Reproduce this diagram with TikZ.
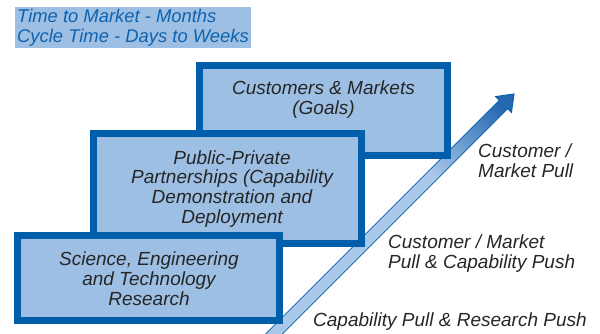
\documentclass[tikz,border=0pt]{standalone}
\usepackage{fontspec}
\setmainfont{Liberation Sans}
\usetikzlibrary{positioning}
\definecolor{boxblue}{HTML}{9DBFE4}
\definecolor{edgeblue}{HTML}{005EAA}
\definecolor{titleblue}{HTML}{0F62AE}
\definecolor{labelgray}{HTML}{262626}
\definecolor{arrowlight}{HTML}{A9C7E8}
\definecolor{arrowdark}{HTML}{2468B2}
\pgfdeclareverticalshading{trendshade}{100bp}{color(0bp)=(arrowlight); color(63bp)=(arrowlight); color(82bp)=(arrowdark); color(100bp)=(arrowdark)}

\begin{document}
\begin{tikzpicture}[
    x=1pt, y=-1pt,
    stage_box/.style={rectangle, draw=edgeblue, fill=boxblue, line width=7pt, inner sep=0pt},
    stage_text/.style={align=center, font=\fontsize{19}{19.6}\selectfont\itshape, text=labelgray, inner sep=0pt},
    flow_label/.style={align=left, font=\fontsize{19}{19.5}\selectfont\itshape, text=labelgray, inner sep=0pt},
    title_box/.style={rectangle, fill=boxblue, text=titleblue, align=left, inner xsep=2pt, inner ysep=0pt, font=\fontsize{18.4}{20}\selectfont\itshape},
    trend_arrow/.style={draw=edgeblue, line width=0.8pt, shading=trendshade, shading angle=-45}
]
    \useasboundingbox (0,0) rectangle (600,333);

    % Title
    \node[title_box, anchor=north west, minimum height=41pt] (timing) at (15,7) {Time to Market - Months\\Cycle Time - Days to Weeks};

    % Arrow
    \draw[trend_arrow] (257.8,341.8) -- (499.3,100.3) -- (495.5,96.5) -- (514.1,93.9) -- (511.5,112.5) -- (507.7,108.7) -- (266.2,350.2) -- cycle;

    % Boxes
    \node[stage_box, minimum width=248pt, minimum height=90pt] (goals) at (323.5,110.5) {};
    \node[stage_box, minimum width=268pt, minimum height=110pt] (partners) at (227.5,188.5) {};
    \node[stage_box, minimum width=262pt, minimum height=85pt] (research) at (148.5,278) {};

    % Box texts (base = last line)
    \node[stage_text, anchor=base] (goals_txt) at (323.5,114) {Customers \& Markets\\(Goals)};
    \node[stage_text, anchor=base] (partners_txt) at (232,223) {Public-Private\\Partnerships (Capability\\Demonstration and\\Deployment};
    \node[stage_text, anchor=base] (research_txt) at (149,305) {Science, Engineering\\and Technology\\Research};

    % Labels
    \node[flow_label, anchor=base west] (pull_lbl) at (478,177) {Customer /\\Market Pull};
    \node[flow_label, anchor=base west] (mixed_lbl) at (388,268) {Customer / Market\\Pull \& Capability Push};
    \node[flow_label, anchor=base west] (push_lbl) at (313,326) {Capability Pull \& Research Push};
\end{tikzpicture}
\end{document}
